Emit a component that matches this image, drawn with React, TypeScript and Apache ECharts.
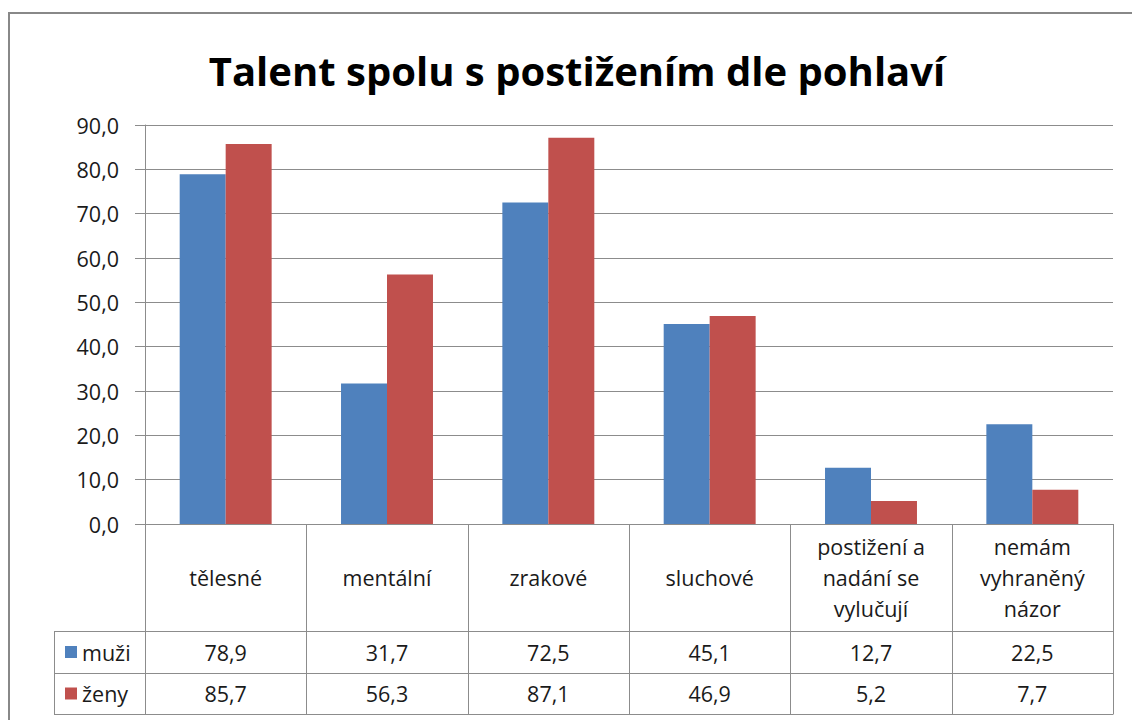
import React, { useEffect, useRef } from "react";
import * as echarts from "echarts";

const TITLE = "Talent spolu s postižením dle pohlaví";
const categories = [
  "tělesné",
  "mentální",
  "zrakové",
  "sluchové",
  "postižení a\nnadání se\nvylučují",
  "nemám\nvyhraněný\nnázor",
];
const seriesNames = ["muži", "ženy"];
const muzi = [78.9, 31.7, 72.5, 45.1, 12.7, 22.5];
const zeny = [85.7, 56.3, 87.1, 46.9, 5.2, 7.7];
const seriesValues = [muzi, zeny];
const colors = ["#4F81BD", "#C0504D"];
const yMin = 0;
const yMax = 90;
const yStep = 10;

const FONT = "'Open Sans', 'Noto Sans', sans-serif";
const W = 1132;
const H = 720;
const GRID_L = 145;
const GRID_R = 1113;
const GRID_T = 125;
const GRID_B = 524;
const ROW1 = 631;
const ROW2 = 673;
const ROW3 = 714;
const TABLE_L = 54;
const LINE = "#8c8c8c";
const TEXT = "#1a1a1a";
const FS = 21.5;

const fmt = (v: number) => v.toFixed(1).replace(".", ",");

export default function App() {
  const ref = useRef<HTMLDivElement>(null);
  useEffect(() => {
    if (!ref.current) return;
    const chart = echarts.init(ref.current, undefined, { renderer: "svg" });
    const colW = (GRID_R - GRID_L) / categories.length;
    const graphics: any[] = [];
    graphics.push({
      type: "rect",
      shape: { x: 9, y: 13, width: 1300, height: 900 },
      style: { fill: "none", stroke: "#888888", lineWidth: 2 },
      z: 0,
    });
    graphics.push({
      type: "text",
      x: 577,
      y: 70,
      style: {
        text: TITLE,
        fontFamily: FONT,
        fontSize: 40,
        fontWeight: "bold",
        fill: "#000",
        align: "center",
        verticalAlign: "middle",
      },
    });
    for (let i = 0; i <= categories.length; i++) {
      const x = Math.round(GRID_L + i * colW) + 0.5;
      graphics.push({
        type: "line",
        shape: { x1: x, y1: GRID_B, x2: x, y2: ROW3 },
        style: { stroke: LINE, lineWidth: 1 },
      });
    }
    graphics.push({
      type: "line",
      shape: { x1: TABLE_L + 0.5, y1: ROW1, x2: TABLE_L + 0.5, y2: ROW3 },
      style: { stroke: LINE, lineWidth: 1 },
    });
    [ROW1, ROW2, ROW3].forEach((y) => {
      graphics.push({
        type: "line",
        shape: { x1: TABLE_L, y1: y + 0.5, x2: GRID_R + 0.5, y2: y + 0.5 },
        style: { stroke: LINE, lineWidth: 1 },
      });
    });
    categories.forEach((c, i) => {
      graphics.push({
        type: "text",
        x: GRID_L + (i + 0.5) * colW,
        y: (GRID_B + ROW1) / 2,
        style: {
          text: c,
          fontFamily: FONT,
          fontSize: FS,
          lineHeight: 31,
          fill: TEXT,
          align: "center",
          verticalAlign: "middle",
        },
      });
    });
    const rows = [ROW1, ROW2, ROW3];
    seriesNames.forEach((name, s) => {
      const yc = (rows[s] + rows[s + 1]) / 2;
      graphics.push({
        type: "rect",
        shape: { x: 65, y: yc - 6, width: 12, height: 12 },
        style: { fill: colors[s] },
      });
      graphics.push({
        type: "text",
        x: 82,
        y: yc,
        style: {
          text: name,
          fontFamily: FONT,
          fontSize: FS,
          fill: TEXT,
          align: "left",
          verticalAlign: "middle",
        },
      });
      seriesValues[s].forEach((v, i) => {
        graphics.push({
          type: "text",
          x: GRID_L + (i + 0.5) * colW,
          y: yc,
          style: {
            text: fmt(v),
            fontFamily: FONT,
            fontSize: FS,
            fill: TEXT,
            align: "center",
            verticalAlign: "middle",
          },
        });
      });
    });

    chart.setOption({
      animation: false,
      backgroundColor: "#fff",
      grid: {
        left: GRID_L,
        top: GRID_T,
        width: GRID_R - GRID_L,
        height: GRID_B - GRID_T,
        containLabel: false,
      },
      xAxis: {
        type: "category",
        data: categories,
        axisLabel: { show: false },
        axisTick: { show: false },
        axisLine: { lineStyle: { color: LINE, width: 1 } },
      },
      yAxis: {
        type: "value",
        min: yMin,
        max: yMax,
        interval: yStep,
        axisLine: { show: true, lineStyle: { color: LINE, width: 1 } },
        axisTick: { show: true, length: 10, lineStyle: { color: LINE } },
        splitLine: { lineStyle: { color: LINE, width: 1 } },
        axisLabel: {
          formatter: (v: number) => fmt(v),
          fontFamily: FONT,
          fontSize: FS,
          color: TEXT,
          margin: 26,
        },
      },
      series: seriesNames.map((name, s) => ({
        name,
        type: "bar",
        data: seriesValues[s],
        itemStyle: { color: colors[s] },
        barGap: "0%",
        barCategoryGap: "43%",
      })),
      graphic: graphics,
    });
    return () => chart.dispose();
  }, []);
  return (
    <div
      ref={ref}
      style={{ position: "fixed", left: 0, top: 0, width: W, height: H, background: "#fff" }}
    />
  );
}
